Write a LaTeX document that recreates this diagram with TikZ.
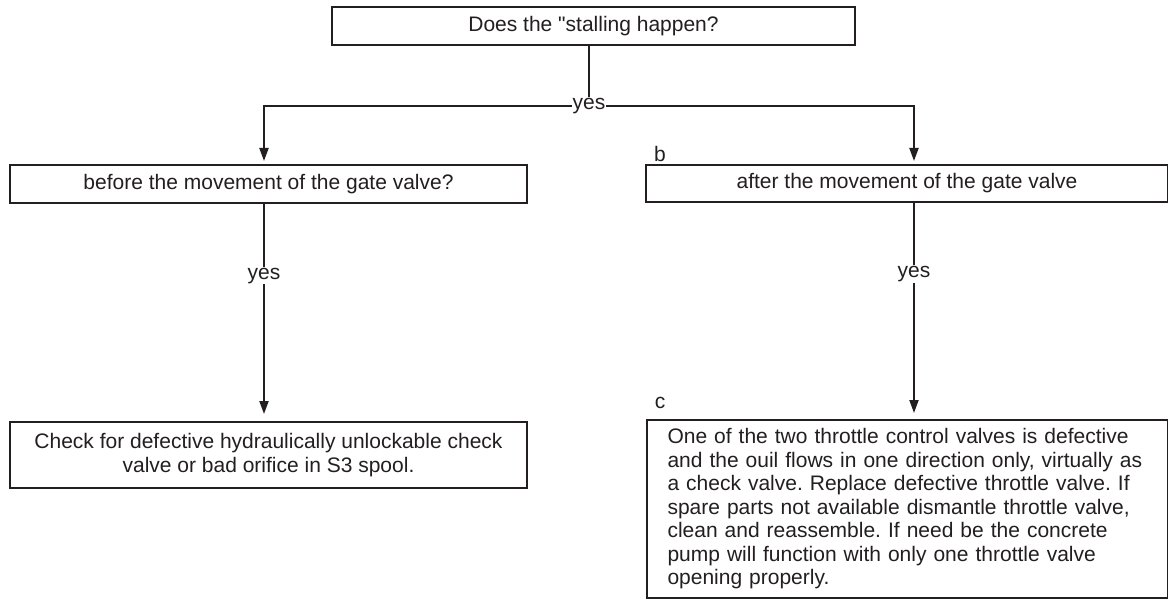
\documentclass[tikz,border=0pt]{standalone}
\usepackage{fontspec}
\setmainfont{Liberation Sans}[Ligatures=TeXOff]
\usetikzlibrary{arrows.meta}
\definecolor{ink}{HTML}{231F20}
\frenchspacing
\begin{document}
\begin{tikzpicture}[x=1pt,y=-1pt,
  box/.style={draw=ink, line width=2pt, anchor=north west, inner sep=0pt,
    font=\fontsize{21}{23.5}\selectfont\frenchspacing, text=ink},
  lbl/.style={font=\fontsize{21}{23.5}\selectfont, text=ink, inner sep=1pt},
  conn/.style={draw=ink, line width=2pt},
  arr/.style={conn, -{Triangle[length=13pt,width=9pt]}}]
\useasboundingbox (0,0) rectangle (1168,599);
\fill[white] (0,0) rectangle (1168,599);
\node[box, minimum width=523pt, minimum height=38pt] (q) at (331,6) {Does the "stalling happen?};
\node[box, minimum width=517pt, minimum height=38pt] (b1) at (9,164) {before the movement of the gate valve?};
\node[box, minimum width=522pt, minimum height=37pt] (b2) at (645,164) {after the movement of the gate valve};
\node[box, minimum width=517pt, minimum height=66pt, align=center] (c1) at (9,421)
  {Check for defective hydraulically unlockable check\\valve or bad orifice in S3 spool.};
\node[box, minimum width=521pt, minimum height=178pt, text width=480pt, align=left] (c2) at (646,419)
  {One of the two throttle control valves is defective\\
   and the ouil flows in one direction only, virtually as\\
   a check valve. Replace defective throttle valve. If\\
   spare parts not available dismantle throttle valve,\\
   clean and reassemble. If need be the concrete\\
   pump will function with only one throttle valve\\
   opening properly.};
\node[lbl] (lb) at (660,154) {b};
\node[lbl] (lc) at (660,403) {c};
\coordinate (j) at (589,106);
\coordinate (jl) at (264,106);
\coordinate (jr) at (914,106);
\draw[conn] (j |- q.south) -- (j);
\draw[arr, shorten >=3pt] (j) -- (jl) -- (jl |- b1.north);
\draw[arr, shorten >=3pt] (j) -- (jr) -- (jr |- b2.north);
\node[lbl, fill=white] (y0) at (j) {yes};
\draw[arr, shorten >=7pt] (jl |- b1.south) -- node[lbl, fill=white, pos=0.33] (y1) {yes} (jl |- c1.north);
\draw[arr, shorten >=6pt] (jr |- b2.south) -- node[lbl, fill=white, pos=0.33] (y2) {yes} (jr |- c2.north);
\end{tikzpicture}
\end{document}
